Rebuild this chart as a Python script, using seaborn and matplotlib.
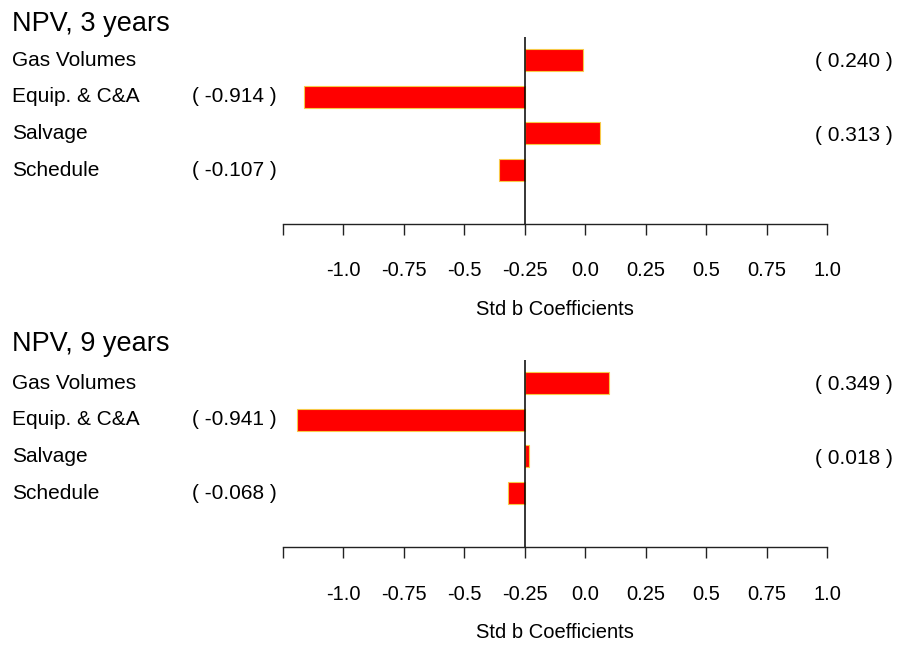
import numpy as np
import matplotlib
matplotlib.use('Agg')
import matplotlib.pyplot as plt
import matplotlib.transforms as mtransforms
import seaborn as sns

categories = ['Gas Volumes', 'Equip. & C&A', 'Salvage', 'Schedule']
npv_3 = [0.240, -0.914, 0.313, -0.107]
npv_9 = [0.349, -0.941, 0.018, -0.068]
titles = ['NPV, 3 years', 'NPV, 9 years']
tick_values = [-1.0, -0.75, -0.5, -0.25, 0.0, 0.25, 0.5, 0.75, 1.0, 1.25]
tick_labels = ['', '-1.0', '-0.75', '-0.5', '-0.25', '0.0', '0.25', '0.5', '0.75', '1.0']

sns.set_style('white')
plt.rcParams['font.family'] = ['Liberation Sans', 'DejaVu Sans']
plt.rcParams['text.color'] = 'black'
plt.rcParams['axes.labelcolor'] = 'black'
plt.rcParams['xtick.color'] = 'black'

W, H = 900, 647
fig = plt.figure(figsize=(9, 6.47), dpi=100)


def panel(values, title, top_px, title_px):
    # axes box in pixel coords: x 283..827, y top_px..top_px+187
    ax = fig.add_axes([283 / W, 1 - (top_px + 187) / H, 544 / W, 187 / H])
    sns.barplot(x=values, y=categories, orient='h', ax=ax, color='#ff0000',
                edgecolor='#f7c948', linewidth=0.8, width=0.6, saturation=1)
    ax.set_xlim(-1.0, 1.25)
    ax.set_ylim(4.47, -0.627)
    ax.axvline(0, color='black', lw=1.1, zorder=3)

    for s in ['top', 'right', 'left']:
        ax.spines[s].set_visible(False)
    ax.spines['bottom'].set_color('#222222')
    ax.spines['bottom'].set_linewidth(1)
    ax.set_yticks([])
    ax.set_ylabel('')
    ax.set_xticks(tick_values)
    ax.set_xticklabels(tick_labels, fontsize=14.5)
    ax.tick_params(axis='x', bottom=True, direction='out', length=8, width=1,
                   color='#222222', pad=19)
    ax.set_xlabel('Std b Coefficients', fontsize=14.5, labelpad=14)

    trans = mtransforms.blended_transform_factory(fig.transFigure, ax.transData)
    for i, (cat, v) in enumerate(zip(categories, values)):
        ax.text(12 / W, i, cat, transform=trans, fontsize=15, ha='left', va='center')
        txt = f'( {v:.3f} )'
        if v < 0:
            ax.text(277 / W, i, txt, transform=trans, fontsize=15, ha='right', va='center')
        else:
            ax.text(893 / W, i + 0.05, txt, transform=trans, fontsize=15, ha='right', va='center')

    fig.text(12 / W, 1 - title_px / H, title, fontsize=19.5, ha='left', va='center')
    return ax


panel(npv_3, titles[0], 37, 24)
panel(npv_9, titles[1], 360, 344)

fig.savefig('out.png', dpi=100)
